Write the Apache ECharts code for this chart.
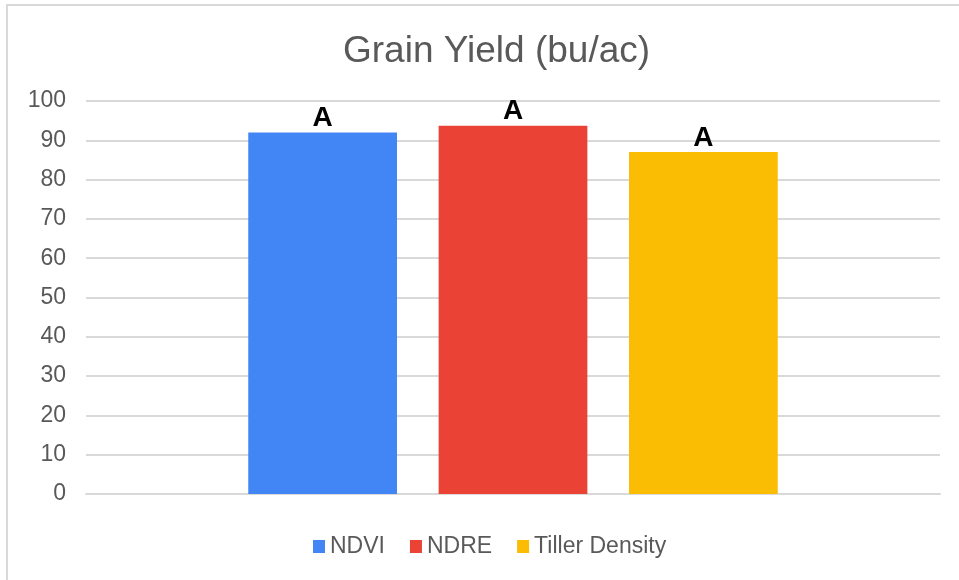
<!DOCTYPE html>
<html>
<head>
<meta charset="utf-8">
<script src="https://cdn.jsdelivr.net/npm/echarts@6/dist/echarts.min.js"></script>
<style>
  html, body { margin: 0; padding: 0; background: #fff; }
  #frame { position: absolute; left: 6px; top: 4px; width: 953px; height: 576px;
           border-left: 2px solid #d9d9d9; border-top: 2px solid #d9d9d9; box-sizing: border-box; }
  #chart { position: absolute; left: 0; top: 0; width: 959px; height: 580px; }
</style>
</head>
<body>
<div id="frame"></div>
<div id="chart"></div>
<script>
var seriesNames = ['NDVI', 'NDRE', 'Tiller Density'];
var seriesValues = [92, 93.7, 87];
var seriesLetters = ['A', 'A', 'A'];
var colors = ['#4285F4', '#EA4335', '#FBBC04'];
var yTicks = { min: 0, max: 100, interval: 10 };

var chart = echarts.init(document.getElementById('chart'));

var series = seriesNames.map(function (name, i) {
    return {
        name: name,
        type: 'bar',
        data: [seriesValues[i]],
        itemStyle: { color: colors[i] },
        barGap: '28%',
        barCategoryGap: '38%',
        label: {
            show: true,
            position: 'top',
            distance: 0,
            formatter: function () { return seriesLetters[i]; },
            color: '#000',
            fontWeight: 'bold',
            fontSize: 28,
            fontFamily: 'Liberation Sans'
        }
    };
});

chart.setOption({
    animation: false,
    textStyle: { fontFamily: 'Liberation Sans' },
    title: {
        text: 'Grain Yield (bu/ac)',
        left: 338,
        top: 28,
        textStyle: { color: '#595959', fontSize: 37, fontWeight: 'normal', fontFamily: 'Liberation Sans' }
    },
    legend: {
        bottom: 17,
        left: 308,
        itemWidth: 12,
        itemHeight: 13,
        itemGap: 25,
        icon: 'rect',
        textStyle: { color: '#595959', fontSize: 23, fontFamily: 'Liberation Sans' },
        data: seriesNames
    },
    grid: { left: 86, right: 19, top: 101, bottom: 86 },
    xAxis: {
        type: 'category',
        data: [''],
        axisLine: { lineStyle: { color: '#d9d9d9', width: 2 } },
        axisTick: { show: false },
        axisLabel: { show: false }
    },
    yAxis: {
        type: 'value',
        min: yTicks.min,
        max: yTicks.max,
        interval: yTicks.interval,
        axisLine: { show: false },
        axisTick: { show: false },
        axisLabel: { color: '#595959', fontSize: 23, margin: 20, fontFamily: 'Liberation Sans' },
        splitLine: { lineStyle: { color: '#d9d9d9', width: 2 } }
    },
    series: series
});
</script>
</body>
</html>
